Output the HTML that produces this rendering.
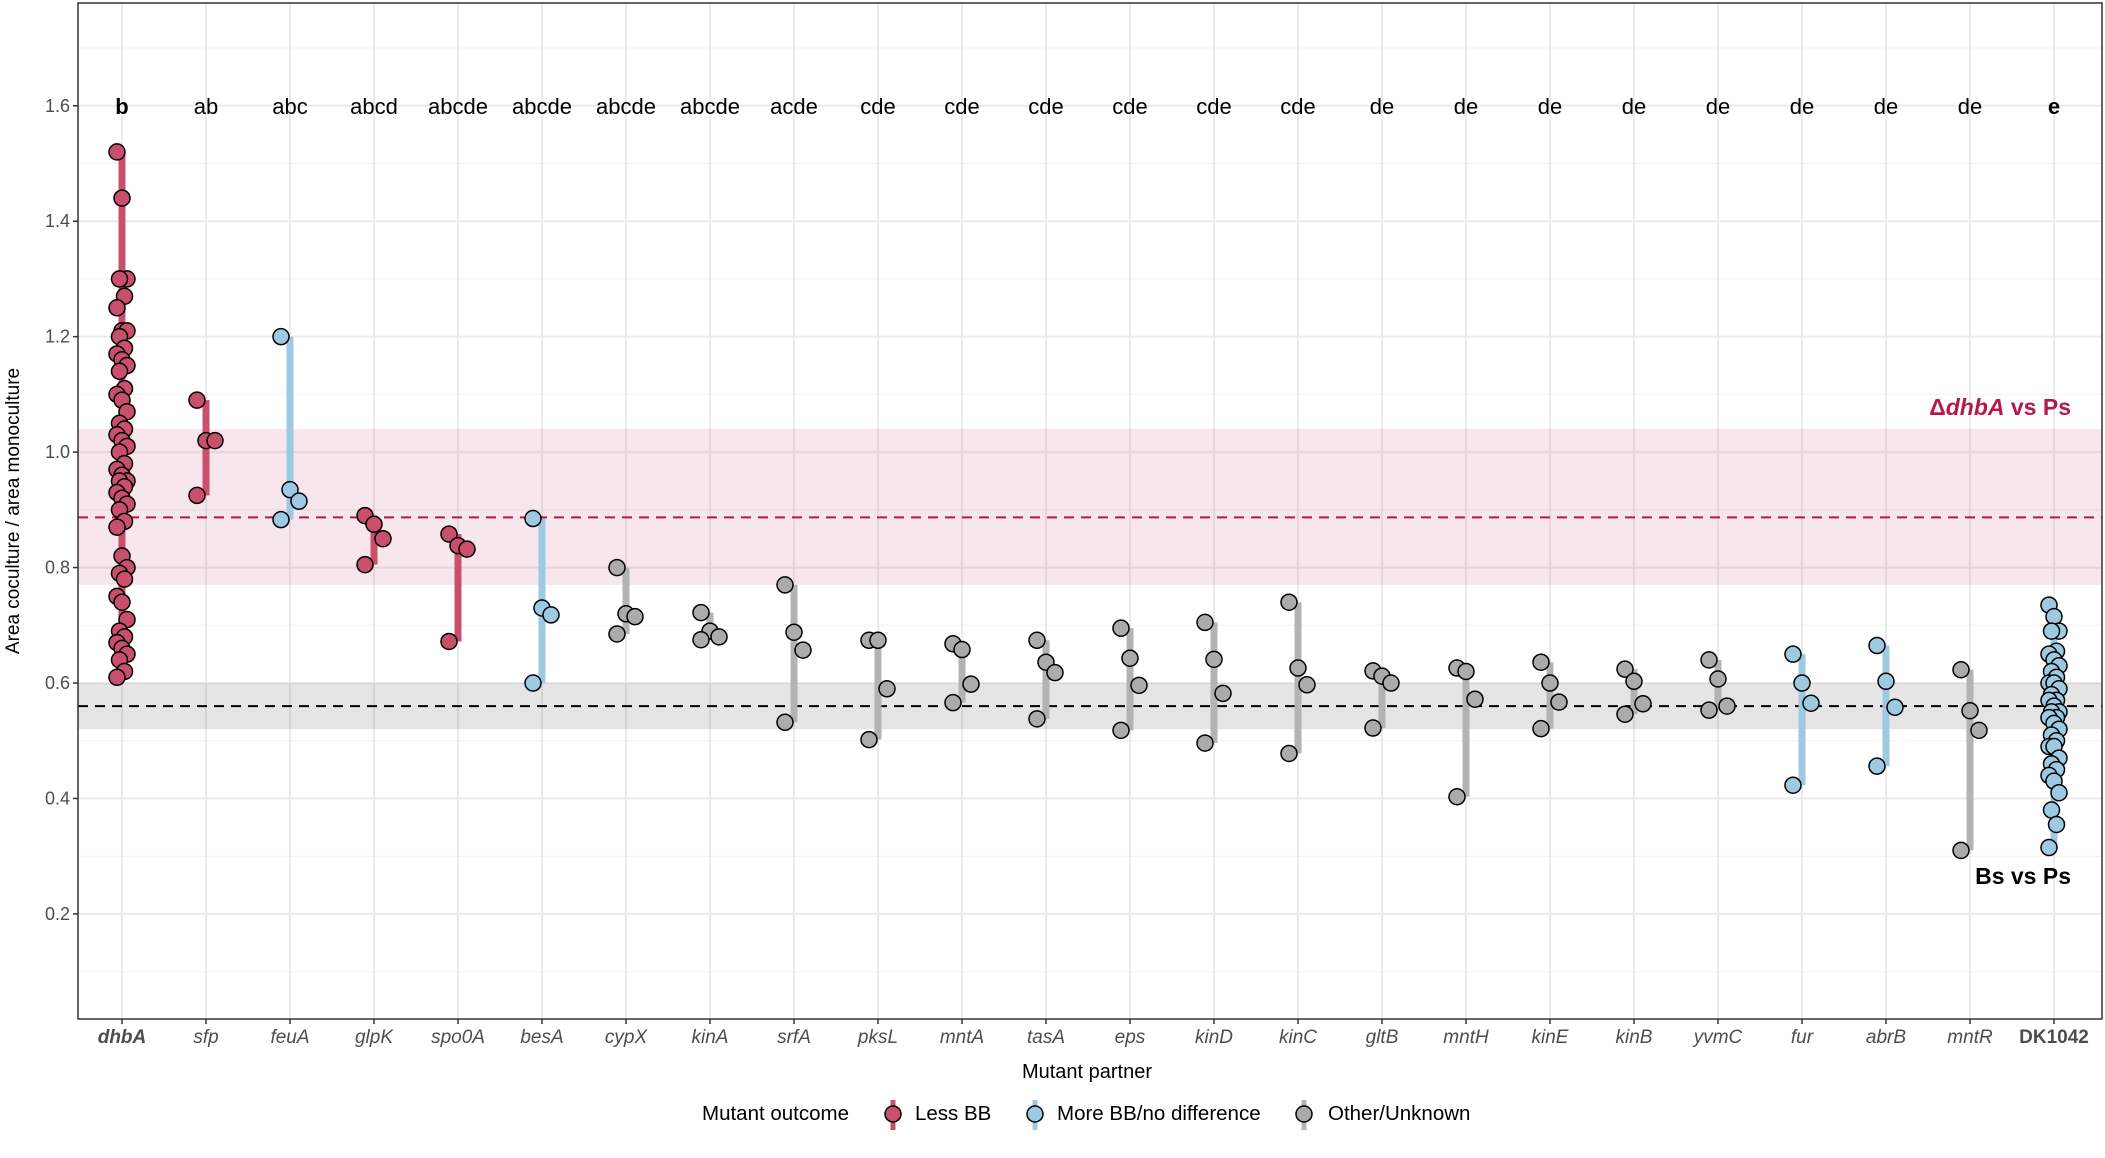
<!DOCTYPE html>
<html><head><meta charset="utf-8"><style>
html,body{margin:0;padding:0;background:#fff;}
svg{display:block;font-family:"Liberation Sans",sans-serif;}
</style></head><body>
<svg id="chart" width="2105" height="1158" viewBox="0 0 2105 1158" xmlns="http://www.w3.org/2000/svg"></svg>
<script>
const categories=["dhbA","sfp","feuA","glpK","spo0A","besA","cypX","kinA","srfA","pksL","mntA","tasA","eps","kinD","kinC","gltB","mntH","kinE","kinB","yvmC","fur","abrB","mntR","DK1042"];
const letters=["b","ab","abc","abcd","abcde","abcde","abcde","abcde","acde","cde","cde","cde","cde","cde","cde","de","de","de","de","de","de","de","de","e"];
const outcomes=["less","less","more","less","less","more","other","other","other","other","other","other","other","other","other","other","other","other","other","other","more","more","other","more"];
const values=[
[1.52,1.44,1.30,1.30,1.27,1.25,1.21,1.21,1.20,1.18,1.17,1.16,1.15,1.14,1.11,1.10,1.09,1.07,1.05,1.04,1.03,1.02,1.01,1.00,0.98,0.97,0.96,0.95,0.95,0.94,0.93,0.92,0.91,0.90,0.88,0.87,0.82,0.80,0.79,0.78,0.75,0.74,0.71,0.69,0.68,0.67,0.66,0.65,0.64,0.62,0.61],
[1.09,1.02,1.02,0.925],
[1.20,0.935,0.915,0.883],
[0.89,0.875,0.85,0.805],
[0.858,0.838,0.832,0.672],
[0.885,0.73,0.718,0.60],
[0.80,0.72,0.715,0.685],
[0.722,0.69,0.68,0.675],
[0.77,0.688,0.657,0.532],
[0.674,0.674,0.59,0.502],
[0.668,0.658,0.598,0.566],
[0.674,0.636,0.618,0.538],
[0.695,0.643,0.596,0.518],
[0.705,0.641,0.582,0.496],
[0.74,0.626,0.597,0.478],
[0.621,0.612,0.60,0.522],
[0.626,0.62,0.572,0.403],
[0.636,0.60,0.567,0.521],
[0.624,0.603,0.564,0.546],
[0.64,0.607,0.56,0.553],
[0.65,0.60,0.565,0.423],
[0.665,0.603,0.558,0.456],
[0.623,0.552,0.518,0.31],
[0.735,0.715,0.69,0.69,0.655,0.65,0.64,0.63,0.62,0.61,0.60,0.60,0.59,0.58,0.57,0.57,0.56,0.55,0.55,0.54,0.54,0.53,0.52,0.51,0.50,0.49,0.49,0.47,0.46,0.45,0.44,0.43,0.41,0.38,0.355,0.315]
];
const yTicks=[0.2,0.4,0.6,0.8,1.0,1.2,1.4,1.6];
const yTickLabels=["0.2","0.4","0.6","0.8","1.0","1.2","1.4","1.6"];
const dhbaRef=[0.77,0.887,1.04];
const wtRef=[0.52,0.56,0.60];

const NS="http://www.w3.org/2000/svg";
const svg=document.getElementById('chart');
const L=78,R=2102,T=3,B=1019;
const yMin=0.018,yMax=1.778;
function y(v){return B-(v-yMin)/(yMax-yMin)*(B-T);}
function x(i){return 122+i*((2054-122)/(categories.length-1));}
const fill={less:"#c9506c",more:"#9ecae1",other:"#ababab"};
const lineC={less:"#c9506c",more:"#9ecae1",other:"#b3b3b3"};
function el(tag,attrs,parent){const e=document.createElementNS(NS,tag);for(const k in attrs)e.setAttribute(k,attrs[k]);(parent||svg).appendChild(e);return e;}

const grid=el('g',{});


for(let v=0.1;v<1.78;v+=0.2){el('line',{x1:L,x2:R,y1:y(v),y2:y(v),stroke:"#f2f2f2","stroke-width":1},grid);}
yTicks.forEach(v=>el('line',{x1:L,x2:R,y1:y(v),y2:y(v),stroke:"#ebebeb","stroke-width":2},grid));
categories.forEach((c,i)=>el('line',{x1:x(i),x2:x(i),y1:T,y2:B,stroke:"#ebebeb","stroke-width":2},grid));

const b1=el('rect',{x:L,width:R-L,y:y(dhbaRef[2]),height:y(dhbaRef[0])-y(dhbaRef[2]),fill:"#b5194a","fill-opacity":0.11});


const b2=el('rect',{x:L,width:R-L,y:y(wtRef[2]),height:y(wtRef[0])-y(wtRef[2]),fill:"#000","fill-opacity":0.1});


const d1=el('line',{x1:L,x2:R,y1:y(dhbaRef[1]),y2:y(dhbaRef[1]),stroke:"#b5194a","stroke-width":2,"stroke-dasharray":"10,7"});


const d2=el('line',{x1:L,x2:R,y1:y(wtRef[1]),y2:y(wtRef[1]),stroke:"#000","stroke-width":2,"stroke-dasharray":"10,7"});



categories.forEach((c,i)=>{
  const vals=values[i];const o=outcomes[i];
  const g=el('g',{});
  
  
  const mx=Math.max(...vals),mn=Math.min(...vals);
  const rl=el('line',{x1:x(i),x2:x(i),y1:y(mx),y2:y(mn),stroke:lineC[o],"stroke-width":7},g);
  
  
  const many=vals.length>6;
  vals.forEach((v,k)=>{
    const off=many?(((k*7)%5)-2)*2.5:((k%3)-1)*9;
    const p=el('circle',{cx:x(i)+off,cy:y(v),r:8,fill:fill[o],stroke:"#000","stroke-width":1.5},g);
    
    
  });
  const t=el('text',{x:x(i),y:y(1.6)+8,"text-anchor":"middle","font-size":22,fill:"#000","font-weight":(i==0||i==categories.length-1)?"bold":"normal"},svg);
  t.textContent=letters[i];
  
  
  const xl=el('text',{x:x(i),y:1043,"text-anchor":"middle","font-size":19,fill:"#4d4d4d","font-style":c=="DK1042"?"normal":"italic","font-weight":(i==0||c=="DK1042")?"bold":"normal"},svg);
  xl.textContent=c;
  
  
  el('line',{x1:x(i),x2:x(i),y1:B,y2:B+5,stroke:"#333","stroke-width":1.5});
});

const fr=el('rect',{x:L,y:T,width:R-L,height:B-T,fill:"none",stroke:"#333","stroke-width":1.5});


yTicks.forEach((v,k)=>{
  el('line',{x1:L-5,x2:L,y1:y(v),y2:y(v),stroke:"#333","stroke-width":1.5});
  const t=el('text',{x:L-8,y:y(v)+6,"text-anchor":"end","font-size":18,fill:"#4d4d4d"});
  t.textContent=yTickLabels[k];
  
  
});
</script>
<script>
(function(){
const NS="http://www.w3.org/2000/svg";const svg=document.getElementById('chart');
function tx(attrs,html,name){const e=document.createElementNS(NS,'text');for(const k in attrs)e.setAttribute(k,attrs[k]);e.innerHTML=html;svg.appendChild(e);

return e;}
tx({x:1087,y:1078,"text-anchor":"middle","font-size":20,fill:"#000"},"Mutant partner","x-axis-title");
tx({x:19,y:511,"text-anchor":"middle","font-size":19,fill:"#000",transform:"rotate(-90 19 511)"},"Area coculture / area monoculture","y-axis-title");
tx({x:2071,y:415,"text-anchor":"end","font-size":23,"font-weight":"bold",fill:"#b5194a"},"Δ<tspan font-style=\"italic\">dhbA</tspan> vs Ps","dhba-annotation");
tx({x:2071,y:884,"text-anchor":"end","font-size":23,"font-weight":"bold",fill:"#000"},"Bs vs Ps","wildtype-annotation");
tx({x:702,y:1120,"font-size":20.5,fill:"#000"},"Mutant outcome","legend-title");
const keys=[[893,"#c9506c","#c9506c","Less BB",915],[1035,"#9ecae1","#9ecae1","More BB/no difference",1057],[1304,"#ababab","#b3b3b3","Other/Unknown",1328]];
keys.forEach(k=>{
 const g=document.createElementNS(NS,'g');svg.appendChild(g);
 
 
 const l=document.createElementNS(NS,'line');l.setAttribute('x1',k[0]);l.setAttribute('x2',k[0]);l.setAttribute('y1',1100);l.setAttribute('y2',1130);l.setAttribute('stroke',k[2]);l.setAttribute('stroke-width',5);g.appendChild(l);
 const c=document.createElementNS(NS,'circle');c.setAttribute('cx',k[0]);c.setAttribute('cy',1114);c.setAttribute('r',8);c.setAttribute('fill',k[1]);c.setAttribute('stroke','#000');c.setAttribute('stroke-width',1.5);g.appendChild(c);
 const t=document.createElementNS(NS,'text');t.setAttribute('x',k[4]);t.setAttribute('y',1120);t.setAttribute('font-size',20.5);t.textContent=k[3];g.appendChild(t);
});
})();
</script>
</body></html>
